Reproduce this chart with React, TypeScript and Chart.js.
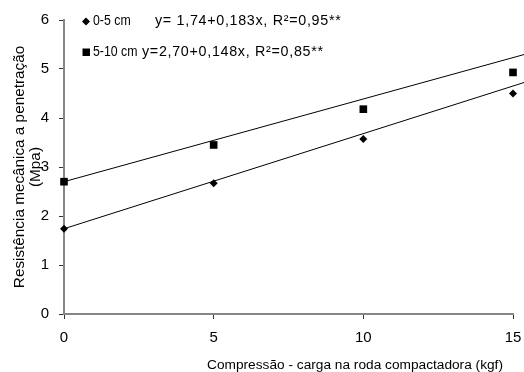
import React, { useEffect, useRef } from "react";
import { Chart, registerables } from "chart.js";

Chart.register(...registerables);

// Data
const compressao = [0, 5, 10, 15];
const prof0a5 = [1.74, 2.67, 3.57, 4.5];
const prof5a10 = [2.7, 3.45, 4.18, 4.93];
const trendX = [0, 15.4];
const trend0a5 = [1.74, 4.73];
const trend5a10 = [2.7, 5.3];
const legendLabels = ["0-5 cm", "5-10 cm"];
const legendEquations = ["y= 1,74+0,183x, R²=0,95**", "y=2,70+0,148x, R²=0,85**"];
const xTitle = "Compressão - carga na roda compactadora (kgf)";
const yTitle = ["Resistência mecânica a penetração", "(Mpa)"];

const FONT = "'Liberation Sans', Arial, sans-serif";

const textPlugin = {
  id: "textPlugin",
  afterDraw(chart: any) {
    const ctx = chart.ctx;
    ctx.save();
    ctx.fillStyle = "#000";
    ctx.textBaseline = "middle";
    ctx.textAlign = "left";
    const rows = [21.5, 52];
    const eqX = [155, 142];
    rows.forEach((y, i) => {
      ctx.beginPath();
      if (i === 0) {
        ctx.moveTo(86, y - 4);
        ctx.lineTo(90, y);
        ctx.lineTo(86, y + 4);
        ctx.lineTo(82, y);
        ctx.closePath();
      } else {
        ctx.rect(82.5, y - 3.5, 7.5, 7.5);
      }
      ctx.fill();
      ctx.letterSpacing = "0px";
      ctx.font = `14px ${FONT}`;
      ctx.save();
      ctx.translate(93, y);
      ctx.scale(0.88, 1);
      ctx.fillText(legendLabels[i], 0, 0);
      ctx.restore();
      ctx.font = `14.3px ${FONT}`;
      ctx.letterSpacing = "0.7px";
      ctx.fillText(legendEquations[i], eqX[i], y);
    });
    ctx.letterSpacing = "0px";
    // x title
    ctx.font = `13.7px ${FONT}`;
    ctx.textAlign = "center";
    ctx.fillText(xTitle, 355, 365);
    ctx.restore();
  },
};

export default function App() {
  const ref = useRef<HTMLCanvasElement | null>(null);
  useEffect(() => {
    if (!ref.current) return;
    const pts = (xs: number[], ys: number[]) => xs.map((x, i) => ({ x, y: ys[i] }));
    const chart = new Chart(ref.current, {
      type: "scatter",
      data: {
        datasets: [
          {
            label: legendLabels[0],
            data: pts(compressao, prof0a5),
            pointStyle: "rectRot",
            pointRadius: 4,
            backgroundColor: "#000",
            borderColor: "#000",
            borderWidth: 0,
            clip: false,
          } as any,
          {
            label: legendLabels[1],
            data: pts(compressao, prof5a10),
            pointStyle: "rect",
            pointRadius: 5.4,
            backgroundColor: "#000",
            borderColor: "#000",
            borderWidth: 0,
            clip: false,
          } as any,
          {
            label: "trend 0-5",
            data: pts(trendX, trend0a5),
            showLine: true,
            pointRadius: 0,
            borderColor: "#000",
            borderWidth: 1,
            clip: false,
          } as any,
          {
            label: "trend 5-10",
            data: pts(trendX, trend5a10),
            showLine: true,
            pointRadius: 0,
            borderColor: "#000",
            borderWidth: 1,
            clip: false,
          } as any,
        ],
      },
      options: {
        animation: false,
        responsive: false,
        layout: { padding: { top: 20, right: 11, bottom: 0, left: 0 } },
        plugins: { legend: { display: false }, tooltip: { enabled: false } },
        scales: {
          x: {
            type: "linear",
            min: 0,
            max: 15,
            afterFit: (s: any) => {
              s.height = 58;
              s.paddingLeft = 0;
              s.paddingRight = 0;
            },
            ticks: { stepSize: 5, color: "#000", font: { family: FONT, size: 15 }, padding: 10 },
            grid: { drawOnChartArea: false, drawTicks: true, tickLength: 5, tickColor: "#333", tickWidth: 1 },
            border: { color: "#868686", width: 2 },
          },
          y: {
            type: "linear",
            min: 0,
            max: 6,
            afterFit: (s: any) => {
              s.width = 64;
              s.paddingTop = 0;
              s.paddingBottom = 0;
            },
            ticks: { stepSize: 1, color: "#000", font: { family: FONT, size: 15 }, padding: 10 },
            grid: { drawOnChartArea: false, drawTicks: true, tickLength: 5, tickColor: "#333", tickWidth: 1 },
            border: { color: "#868686", width: 2 },
            title: {
              display: true,
              text: yTitle,
              color: "#000",
              font: { family: FONT, size: 15.3, lineHeight: 1.0 },
              padding: { top: 12.5, bottom: 0 },
            },
          },
        },
      },
      plugins: [textPlugin],
    });
    return () => chart.destroy();
  }, []);
  return (
    <div style={{ position: "fixed", left: 0, top: 0, width: 524, height: 372, background: "#fff" }}>
      <canvas ref={ref} width={524} height={372} style={{ width: 524, height: 372 }} />
    </div>
  );
}
